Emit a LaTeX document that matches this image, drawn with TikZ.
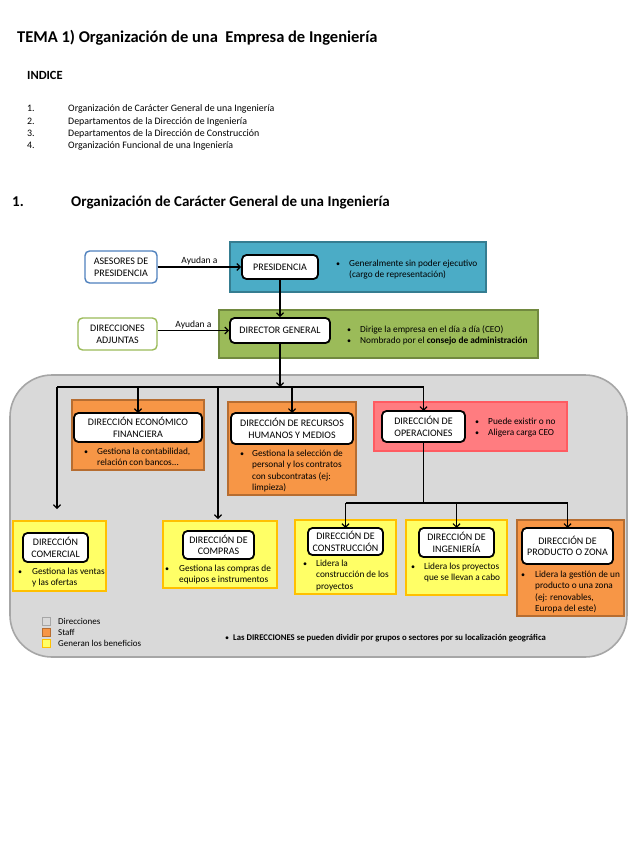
\documentclass[tikz,border=0pt]{standalone}
\usepackage{fontspec}
\setmainfont{Carlito}
\usetikzlibrary{arrows.meta}
\definecolor{blueF}{HTML}{4BACC6}
\definecolor{blueD}{HTML}{357D91}
\definecolor{greenF}{HTML}{9BBB59}
\definecolor{greenD}{HTML}{71893F}
\definecolor{orangeF}{HTML}{F79646}
\definecolor{orangeD}{HTML}{B66D31}
\definecolor{redF}{HTML}{FF7C80}
\definecolor{redD}{HTML}{FF5B61}
\definecolor{yelF}{HTML}{FFFF66}
\definecolor{yelD}{HTML}{FFC000}
\definecolor{grayF}{HTML}{D9D9D9}
\definecolor{grayD}{HTML}{A6A6A6}
\definecolor{asesD}{HTML}{4F81BD}
\newcommand\mylines[1]{\vtop{\halign{##\hfil\cr #1\crcr}}}
\begin{document}
\begin{tikzpicture}[x=1pt,y=-1pt,
  box/.style={draw=black, line width=1.8pt, rounded corners=4.5pt, fill=white, inner sep=0pt, align=center, font=\fontsize{10}{11.5}\selectfont},
  sidebox/.style={line width=1.4pt, rounded corners=4.5pt, fill=white, inner sep=0pt, align=center, font=\fontsize{10}{12}\selectfont},
  bg/.style={inner sep=0pt, line width=1.4pt},
  txt/.style={anchor=base west, inner sep=0pt, font=\fontsize{9.3}{11.5}\selectfont},
  bul/.style={anchor=base, inner sep=0pt, font=\fontsize{8}{11}\selectfont},
  conn/.style={line width=1.2pt},
  arr/.style={conn, -{Straight Barb[length=3.5pt,width=7pt]}},
  lab/.style={inner sep=1pt, font=\fontsize{9.5}{11}\selectfont},
  leg/.style={inner sep=0pt, line width=0.8pt, minimum width=8, minimum height=8},
  legtxt/.style={anchor=base west, inner sep=0pt, font=\fontsize{9}{10}\selectfont},
  idx/.style={anchor=base west, inner sep=0pt, font=\fontsize{9.9}{11}\selectfont},
]
\useasboundingbox[fill=white] (0,0) rectangle (636,848);

% ---- headings ----
\node[anchor=base west, inner sep=0pt, font=\fontsize{16.5}{18}\selectfont\bfseries] (title) at (17,43) {TEMA 1) Organización de una~ Empresa de Ingeniería};
\node[anchor=base west, inner sep=0pt, font=\fontsize{12.5}{14}\selectfont\bfseries] (indice) at (27,80) {INDICE};
\node[idx] (n1) at (27,112) {1.};
\node[idx] (n2) at (27,124.3) {2.};
\node[idx] (n3) at (27,136.6) {3.};
\node[idx] (n4) at (27,148.9) {4.};
\node[idx] (i1) at (68,112) {Organización de Carácter General de una Ingeniería};
\node[idx] (i2) at (68,124.3) {Departamentos de la Dirección de Ingeniería};
\node[idx] (i3) at (68,136.6) {Departamentos de la Dirección de Construcción};
\node[idx] (i4) at (68,148.9) {Organización Funcional de una Ingeniería};
\node[anchor=base west, inner sep=0pt, font=\fontsize{15}{17}\selectfont\bfseries] (s1n) at (12,206) {1.};
\node[anchor=base west, inner sep=0pt, font=\fontsize{15}{17}\selectfont\bfseries] (s1) at (71,206) {Organización de Carácter General de una Ingeniería};

% ---- top part ----
\node[bg, fill=blueF, draw=blueD, minimum width=256, minimum height=50] (presbg) at (358,267) {};
\node[bg, fill=greenF, draw=greenD, minimum width=319, minimum height=48] (dgbg) at (378.5,334) {};
\node[sidebox, draw=asesD, minimum width=72, minimum height=32] (ases) at (121,267) {ASESORES DE\\PRESIDENCIA};
\node[sidebox, draw=greenF, minimum width=79, minimum height=32] (adj) at (117.5,334) {DIRECCIONES\\ADJUNTAS};
\node[box, minimum width=76, minimum height=24] (pres) at (280,267) {PRESIDENCIA};
\node[box, minimum width=100, minimum height=25] (dg) at (280,330.5) {DIRECTOR GENERAL};

\draw[arr] (ases.east) -- node[lab, above] {Ayudan a} (pres.west);
\draw[arr] (adj.east |- dg.west) -- node[lab, above] {Ayudan a} (dg.west);
\draw[arr] (pres.south) -- (dg.north);

\node[bul] (bp) at (338,266) {•};
\node[txt] (tp) at (349,266) {\mylines{Generalmente sin poder ejecutivo\cr (cargo de representación)}};
\node[bul] (bd1) at (349,332) {•};
\node[bul] (bd2) at (349,343.5) {•};
\node[txt] (td) at (360,332) {\mylines{Dirige la empresa en el día a día (CEO)\cr Nombrado por el \textbf{consejo de administración}}};

% ---- gray area ----
\node[inner sep=0pt, fill=grayF, draw=grayD, line width=1.6pt, rounded corners=42pt, minimum width=617, minimum height=282] (gray) at (318.5,516) {};

\node[bg, fill=orangeF, draw=orangeD, minimum width=132, minimum height=70] (econbg) at (138,435) {};
\node[bg, fill=orangeF, draw=orangeD, minimum width=128, minimum height=93] (rrhhbg) at (292,448.5) {};
\node[bg, fill=redF, draw=redD, minimum width=193, minimum height=49] (opsbg) at (470.5,426.5) {};
\node[bg, fill=yelF, draw=yelD, minimum width=93, minimum height=70] (combg) at (59.5,556) {};
\node[bg, fill=yelF, draw=yelD, minimum width=114, minimum height=67] (compbg) at (220,554.5) {};
\node[bg, fill=yelF, draw=yelD, minimum width=101, minimum height=74] (constbg) at (345.5,557) {};
\node[bg, fill=yelF, draw=yelD, minimum width=101, minimum height=75] (ingbg) at (456.5,557.5) {};
\node[bg, fill=orangeF, draw=orangeD, minimum width=107, minimum height=96] (prodbg) at (570.5,568) {};

% connectors
\coordinate (b1L) at (57,387);
\coordinate (b1C) at (218,387);
\coordinate (b1R) at (423.5,387);
\coordinate (comTip) at (57,509);
\coordinate (compTip) at (218,519);
\coordinate (b2L) at (345.5,503);
\coordinate (b2M) at (423.5,503);
\coordinate (b2R) at (567.5,503);

\draw[arr] (dg.south) -- (dg.south |- b1L);
\draw[conn] (b1L) -- (b1R);
\draw[arr] (b1L) -- (comTip);
\draw[arr] (b1C) -- (compTip);
\draw[arr] (138,387) -- (138,413);
\draw[arr] (292,387) -- (292,413);
\draw[arr] (b1R) -- (423.5,411);
\draw[conn] (423.5,442) -- (b2M);
\draw[conn] (b2L) -- (b2R);
\draw[arr] (b2L) -- (345.5,528);
\draw[arr] (456.5,503) -- (456.5,528);
\draw[arr] (b2R) -- (567.5,528);

% nodes
\node[box, minimum width=128, minimum height=29] (econ) at (138,427.5) {DIRECCIÓN ECONÓMICO\\FINANCIERA};
\node[box, minimum width=122, minimum height=31] (rrhh) at (292,428.5) {DIRECCIÓN DE RECURSOS\\HUMANOS Y MEDIOS};
\node[box, minimum width=83, minimum height=31] (ops) at (423.5,426.5) {DIRECCIÓN DE\\OPERACIONES};
\node[box, minimum width=65, minimum height=29] (com) at (55.5,547.5) {DIRECCIÓN\\COMERCIAL};
\node[box, minimum width=71, minimum height=28] (comp) at (218.5,545) {DIRECCIÓN DE\\COMPRAS};
\node[box, minimum width=75, minimum height=27] (const) at (345.5,541.5) {DIRECCIÓN DE\\CONSTRUCCIÓN};
\node[box, minimum width=75, minimum height=29] (ing) at (456.5,542.5) {DIRECCIÓN DE\\INGENIERÍA};
\node[box, minimum width=91, minimum height=36] (prod) at (567.5,546) {DIRECCIÓN DE\\PRODUCTO O ZONA};

% bullet texts
\node[bul] (be) at (86,454) {•};
\node[txt] (te) at (97,454) {\mylines{Gestiona la contabilidad,\cr relación con bancos...}};
\node[bul] (br) at (242,456) {•};
\node[txt] (tr) at (252,456) {\mylines{Gestiona la selección de\cr personal y los contratos\cr con subcontratas (ej:\cr limpieza)}};
\node[bul] (bo1) at (477,424) {•};
\node[bul] (bo2) at (477,435.5) {•};
\node[txt] (to) at (488,424) {\mylines{Puede existir o no\cr Aligera carga CEO}};
\node[bul] (bc) at (20,574) {•};
\node[txt] (tc) at (32,574) {\mylines{Gestiona las ventas\cr y las ofertas}};
\node[bul] (bcp) at (167,571) {•};
\node[txt] (tcp) at (179,571) {\mylines{Gestiona las compras de\cr equipos e instrumentos}};
\node[bul] (bk) at (305,566) {•};
\node[txt] (tk) at (316,566) {\mylines{Lidera la\cr construcción de los\cr proyectos}};
\node[bul] (bi) at (413,569) {•};
\node[txt] (ti) at (424,569) {\mylines{Lidera los proyectos\cr que se llevan a cabo}};
\node[bul] (bz) at (523,577) {•};
\node[txt] (tz) at (535,577) {\mylines{Lidera la gestión de un\cr producto o una zona\cr (ej: renovables,\cr Europa del este)}};

% legend
\node[leg, fill=grayF, draw=grayD] (lg1) at (46,621) {};
\node[leg, fill=orangeF, draw=orangeD] (lg2) at (46,632) {};
\node[leg, fill=yelF, draw=yelD] (lg3) at (46,643) {};
\node[legtxt] (lt1) at (58,624) {Direcciones};
\node[legtxt] (lt2) at (58,635) {Staff};
\node[legtxt] (lt3) at (58,646.5) {Generan los beneficios};

\node[bul] (bn) at (227,640) {•};
\node[legtxt, font=\fontsize{8.7}{10}\selectfont\bfseries] (note) at (233,640) {Las DIRECCIONES se pueden dividir por grupos o sectores por su localización geográfica};
\end{tikzpicture}
\end{document}
